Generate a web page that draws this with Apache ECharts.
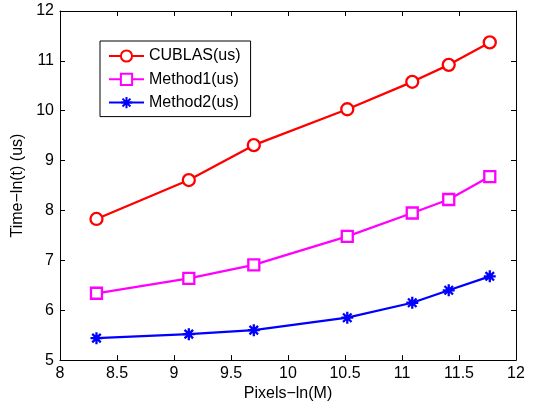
<!DOCTYPE html>
<html>
<head>
<meta charset="utf-8">
<script src="https://cdn.jsdelivr.net/npm/echarts@6/dist/echarts.min.js"></script>
<style>html,body{margin:0;padding:0;background:#fff;}#c{width:536px;height:407px;}</style>
</head>
<body>
<div id="c"></div>
<script>
const xValues = [8.32, 9.13, 9.70, 10.52, 11.09, 11.41, 11.77];
const cublas = [7.83, 8.61, 9.31, 10.03, 10.58, 10.92, 11.37];
const method1 = [6.34, 6.64, 6.91, 7.48, 7.95, 8.22, 8.68];
const method2 = [5.44, 5.52, 5.60, 5.85, 6.15, 6.40, 6.68];
const seriesNames = ['CUBLAS(us)', 'Method1(us)', 'Method2(us)'];
const xTicks = [8, 8.5, 9, 9.5, 10, 10.5, 11, 11.5, 12];
const yTicks = [5, 6, 7, 8, 9, 10, 11, 12];

const font = 'Liberation Sans, Arial, Helvetica, sans-serif';
const chart = echarts.init(document.getElementById('c'));
const pair = arr => arr.map((v, i) => [xValues[i], v]);
const star = 'path://M0,-10L0,10M-10,0L10,0M-7.07,-7.07L7.07,7.07M-7.07,7.07L7.07,-7.07';

const axisCommon = {
  axisLine: { show: true, onZero: false, lineStyle: { color: '#000', width: 1 } },
  axisTick: { show: true, inside: true, length: 5, lineStyle: { color: '#000', width: 1 } },
  splitLine: { show: false }
};

chart.setOption({
  animation: false,
  backgroundColor: '#fff',
  grid: { left: 60, right: 20, top: 11, bottom: 45 },
  legend: {
    orient: 'vertical', left: 100, top: 41,
    itemWidth: 35, itemHeight: 14, itemGap: 7.3,
    padding: [7, 10, 6, 8],
    borderColor: '#000', borderWidth: 1, backgroundColor: '#fff',
    textStyle: { fontFamily: font, fontSize: 16, color: '#000' },
    data: seriesNames
  },
  xAxis: [
    Object.assign({
      type: 'value', min: xTicks[0], max: xTicks[xTicks.length - 1], interval: 0.5,
      name: 'Pixels−ln(M)', nameLocation: 'middle', nameGap: 23,
      nameTextStyle: { fontFamily: font, fontSize: 16, color: '#000' },
      axisLabel: { fontFamily: font, fontSize: 16, color: '#000', margin: 5 }
    }, axisCommon),
    Object.assign({
      type: 'value', position: 'top', min: xTicks[0], max: xTicks[xTicks.length - 1], interval: 0.5,
      axisLabel: { show: false }
    }, axisCommon)
  ],
  yAxis: [
    Object.assign({
      type: 'value', min: yTicks[0], max: yTicks[yTicks.length - 1], interval: 1,
      name: 'Time−ln(t) (us)', nameLocation: 'middle', nameGap: 26,
      nameTextStyle: { fontFamily: font, fontSize: 16, color: '#000' },
      axisLabel: { fontFamily: font, fontSize: 16, color: '#000', margin: 6 }
    }, axisCommon),
    Object.assign({
      type: 'value', position: 'right', min: yTicks[0], max: yTicks[yTicks.length - 1], interval: 1,
      axisLabel: { show: false }
    }, axisCommon)
  ],
  series: [
    {
      name: seriesNames[0], type: 'line', data: pair(cublas),
      symbol: 'circle', symbolSize: 12, showAllSymbol: true,
      lineStyle: { color: '#ff0000', width: 2.3 },
      itemStyle: { color: '#fff', borderColor: '#ff0000', borderWidth: 2.3 }
    },
    {
      name: seriesNames[1], type: 'line', data: pair(method1),
      symbol: 'rect', symbolSize: 11,
      lineStyle: { color: '#ff00ff', width: 2.3 },
      itemStyle: { color: '#fff', borderColor: '#ff00ff', borderWidth: 2.3 }
    },
    {
      name: seriesNames[2], type: 'line', data: pair(method2),
      symbol: star, symbolSize: 12,
      lineStyle: { color: '#0000ff', width: 2.3 },
      itemStyle: { color: '#0000ff', borderColor: '#0000ff', borderWidth: 2.3 }
    }
  ]
});
</script>
</body>
</html>
